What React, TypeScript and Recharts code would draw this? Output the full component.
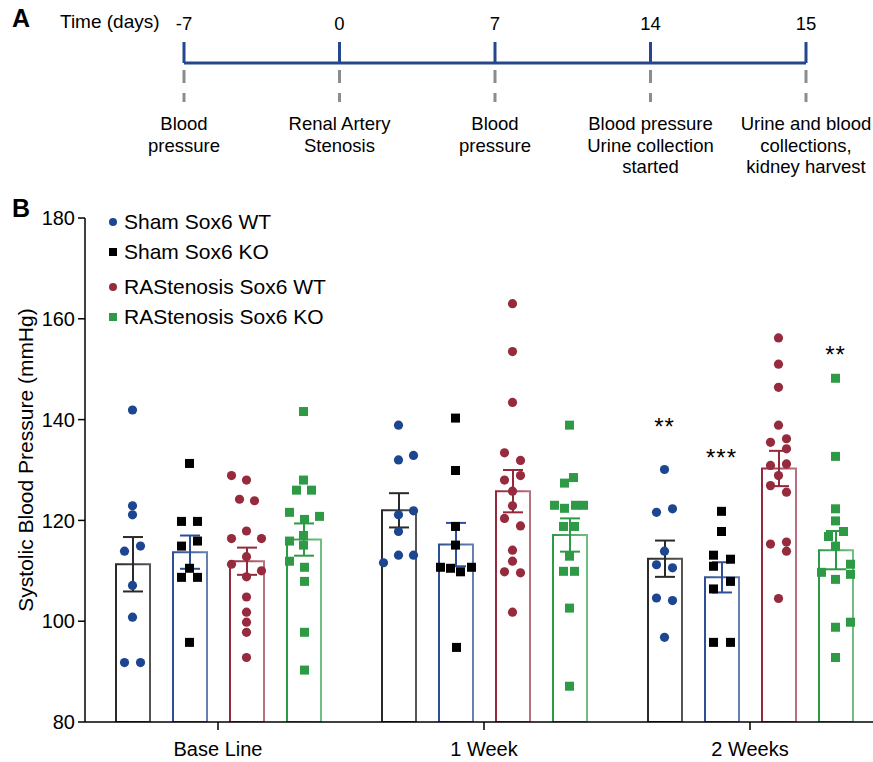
import React from "react";
import {
  ComposedChart,
  LineChart,
  Line,
  Bar,
  ErrorBar,
  Scatter,
  XAxis,
  YAxis,
  ReferenceLine,
  Legend,
  Label,
} from "recharts";

const FONT = "'Liberation Sans', Arial, Helvetica, sans-serif";

// ---------- Panel A: timeline ----------
const timeTicks = ["-7", "0", "7", "14", "15"];
const timeEvents = [
  ["Blood", "pressure"],
  ["Renal Artery", "Stenosis"],
  ["Blood", "pressure"],
  ["Blood pressure", "Urine collection", "started"],
  ["Urine and blood", "collections,", "kidney harvest"],
];

// ---------- Panel B: bars + points ----------
const categories = ["Base Line", "1 Week", "2 Weeks"];
const seriesNames = [
  "Sham Sox6 WT",
  "Sham Sox6 KO",
  "RAStenosis Sox6 WT",
  "RAStenosis Sox6 KO",
];
const yTicks = [80, 100, 120, 140, 160, 180];

const shamWTMean = [111.3, 122.0, 112.4];
const shamWTSem = [5.4, 3.4, 3.6];
const shamKOMean = [113.7, 115.2, 108.7];
const shamKOSem = [3.3, 4.3, 3.0];
const rasWTMean = [111.9, 125.8, 130.3];
const rasWTSem = [2.7, 4.2, 3.5];
const rasKOMean = [116.2, 117.1, 114.1];
const rasKOSem = [3.2, 3.3, 3.8];

const shamWTValues = [
  [141.9, 122.9, 121.1, 113.9, 114.9, 107.1, 100.8, 91.8, 91.8],
  [138.9, 132.0, 132.9, 121.9, 121.1, 117.8, 113.1, 113.1, 111.6],
  [130.1, 121.6, 122.3, 113.9, 111.2, 110.6, 104.6, 104.1, 96.8],
];
const shamWTJitter = [
  [0, 0, 0, -8, 8, 0, 0, -8, 8],
  [0, 0, 15, 15, 0, 0, 0, 15, -15],
  [0, -8, 8, 0, -8, 8, -8, 8, 0],
];

const shamKOValues = [
  [131.3, 119.8, 119.8, 114.9, 115.9, 110.5, 108.7, 108.7, 95.8],
  [140.3, 129.9, 118.8, 115.1, 110.7, 110.5, 109.8, 110.7, 94.8],
  [121.8, 117.8, 113.1, 112.3, 110.9, 107.9, 106.4, 95.8, 95.8],
];
const shamKOJitter = [
  [0, -8, 8, -8, 8, 0, -8, 8, 0],
  [0, 0, 0, 0, -15, -5, 5, 16, 1],
  [0, 0, -8, 9, -8, 9, -8, -8, 9],
];

const rasWTValues = [
  [128.9, 128.0, 124.2, 123.9, 117.9, 116.4, 116.4, 112.8, 111.3, 110.0, 108.8, 104.8, 101.8, 99.8, 97.8, 92.8],
  [163.0, 153.5, 143.4, 133.4, 131.9, 128.9, 128.0, 125.8, 122.9, 120.4, 118.9, 114.1, 111.9, 109.8, 109.6, 101.8],
  [156.2, 151.0, 146.4, 138.9, 135.5, 136.2, 134.2, 130.9, 131.2, 128.9, 126.9, 125.6, 115.3, 115.7, 113.9, 104.5],
];
const rasWTJitter = [
  [-15, 0, -7, 8, 0, -15, 15, 0, -15, 15, 0, 0, 0, 0, 0, 0],
  [0, 0, 0, -8, 8, 8, -8, 0, 0, -8, 8, 0, 0, -8, 8, 0],
  [0, 0, 0, 0, -8, 8, 8, -8, 8, 0, -8, 8, -8, 8, 8, 0],
];

const rasKOValues = [
  [141.6, 128.0, 126.0, 126.0, 121.6, 120.8, 120.2, 117.0, 115.1, 115.9, 111.9, 110.7, 107.9, 97.8, 90.3],
  [138.9, 128.5, 127.4, 123.0, 122.4, 123.0, 123.0, 118.8, 118.8, 112.9, 109.9, 109.9, 102.6, 87.1],
  [148.2, 132.7, 122.3, 119.9, 117.8, 116.8, 114.9, 111.3, 109.7, 109.3, 108.3, 99.8, 98.8, 92.8],
];
const rasKOJitter = [
  [0, 0, -7, 8, -14, 16, 1, 0, 0, -14, -14, 1, 1, 1, 1],
  [0, 4, -5, -15, -5, 6, 14, -6, 5, 0, -6, 5, 0, 0],
  [0, 0, 0, 0, 8, -7, 0, 15, -14, 15, 0, 15, 0, 0],
];

const starLabels = ["**", "***", "**"];
const starGroup = [2, 2, 2];
const starSeries = [0, 1, 3];
const starValue = [139.5, 133.4, 153.9];

// ---------- styles ----------
const BLUE_LINE = "#24478f";
const series = [
  { name: seriesNames[0], mean: shamWTMean, sem: shamWTSem, values: shamWTValues, jitter: shamWTJitter, bar: "#2a2a2a", barLight: "#555555", dot: "#1d4690", shape: "circle" },
  { name: seriesNames[1], mean: shamKOMean, sem: shamKOSem, values: shamKOValues, jitter: shamKOJitter, bar: "#2f4f95", barLight: "#6680b0", dot: "#000000", shape: "square" },
  { name: seriesNames[2], mean: rasWTMean, sem: rasWTSem, values: rasWTValues, jitter: rasWTJitter, bar: "#932a3c", barLight: "#b87280", dot: "#952b3c", shape: "circle" },
  { name: seriesNames[3], mean: rasKOMean, sem: rasKOSem, values: rasKOValues, jitter: rasKOJitter, bar: "#2e9a45", barLight: "#70bf82", dot: "#2e9a45", shape: "square" },
];

const BAND_PX = 266;
const PITCH_PX = 57;

const barData = categories.map((cat, g) => {
  const row: any = { cat };
  series.forEach((s, k) => {
    row["m" + k] = s.mean[g];
    row["e" + k] = s.sem[g];
  });
  return row;
});

const pointData = series.map((s, k) =>
  s.values.flatMap((vals, g) =>
    vals.map((v, j) => ({
      x: g + 0.5 + ((k - 1.5) * PITCH_PX + s.jitter[g][j]) / BAND_PX,
      y: v,
    }))
  )
);

const starData = starLabels.map((label, i) => ({
  x: starGroup[i] + 0.5 + ((starSeries[i] - 1.5) * PITCH_PX) / BAND_PX,
  y: starValue[i],
  label,
}));

const timelineData = timeTicks.map((t, i) => ({ i, y: 1 }));

const TopTick = (props: any) => {
  const { x, y, payload } = props;
  return (
    <text x={x} y={y - 12} textAnchor="middle" fontSize={18.5} fill="#000" fontFamily={FONT}>
      {timeTicks[payload.value]}
    </text>
  );
};

const EventTick = (props: any) => {
  const { x, y, payload } = props;
  const lines = timeEvents[payload.value] || [];
  return (
    <text x={x} y={y} textAnchor="middle" fontSize={18.5} fill="#000" fontFamily={FONT}>
      {lines.map((l, k) => (
        <tspan key={k} x={x} dy={k === 0 ? 28 : 21.7}>
          {l}
        </tspan>
      ))}
    </text>
  );
};

const makeDot = (color: string, shape: string) => (p: any) => {
  if (p.cx == null || p.cy == null) return <g />;
  if (shape === "circle") return <circle cx={p.cx} cy={p.cy} r={4.6} fill={color} />;
  return <rect x={p.cx - 4.5} y={p.cy - 4.5} width={9} height={9} fill={color} />;
};

const StarShape = (p: any) => (
  <text
    x={p.cx}
    y={p.cy + 13}
    textAnchor="middle"
    fontSize={24}
    fill="#000"
    fontFamily={FONT}
    letterSpacing={1}
  >
    {p.payload.label}
  </text>
);

const LegendContent = () => (
  <div style={{ fontFamily: FONT, fontSize: 21, color: "#000" }}>
    {series.map((s, k) => (
      <div
        key={k}
        style={{
          height: 30,
          lineHeight: "30px",
          display: "flex",
          alignItems: "center",
          marginTop: k === 2 ? 5 : 0,
          whiteSpace: "nowrap",
        }}
      >
        <svg width={10} height={10} style={{ marginRight: 6 }}>
          {s.shape === "circle" ? (
            <circle cx={5} cy={5} r={4} fill={s.dot} />
          ) : (
            <rect x={1} y={1} width={8} height={8} fill={s.dot} />
          )}
        </svg>
        <span>{s.name}</span>
      </div>
    ))}
  </div>
);

const YTitle = (props: any) => {
  const vb = props.viewBox || {};
  const cy = (vb.y || 0) + (vb.height || 0) / 2 - 10;
  return (
    <text
      x={25}
      y={cy}
      transform={`rotate(-90, 25, ${cy})`}
      textAnchor="middle"
      dominantBaseline="central"
      fontSize={21}
      fill="#000"
      fontFamily={FONT}
    >
      Systolic Blood Pressure (mmHg)
    </text>
  );
};

export default function App() {
  return (
    <div
      style={{
        position: "absolute",
        left: 0,
        top: 0,
        width: 873,
        height: 762,
        overflow: "hidden",
        background: "#fff",
        fontFamily: FONT,
      }}
    >
      <div style={{ position: "absolute", left: 12, top: 4, fontSize: 25, fontWeight: "bold" }}>A</div>
      <div style={{ position: "absolute", left: 60, top: 11, fontSize: 19 }}>Time (days)</div>
      <div style={{ position: "absolute", left: 12, top: 194, fontSize: 25, fontWeight: "bold" }}>B</div>

      <div style={{ position: "absolute", left: 0, top: 0 }}>
        <LineChart
          width={873}
          height={190}
          data={timelineData}
          margin={{ top: 23, right: 67, bottom: 3, left: 184 }}
        >
          <XAxis
            xAxisId="top"
            dataKey="i"
            type="number"
            domain={[0, 4]}
            ticks={[0, 1, 2, 3, 4]}
            orientation="top"
            height={40}
            axisLine={false}
            tickLine={{ stroke: BLUE_LINE, strokeWidth: 3 }}
            tickSize={21}
            tickMargin={0}
            tick={<TopTick />}
            interval={0}
          />
          <XAxis
            xAxisId="bot"
            dataKey="i"
            type="number"
            domain={[0, 4]}
            ticks={[0, 1, 2, 3, 4]}
            orientation="bottom"
            height={85}
            axisLine={false}
            tickLine={false}
            tickSize={0}
            tickMargin={0}
            tick={<EventTick />}
            interval={0}
          />
          <YAxis hide domain={[0, 1]} />
          {timeTicks.map((t, i) => (
            <ReferenceLine
              key={t}
              xAxisId="top"
              segment={[
                { x: i, y: 1 },
                { x: i, y: 0 },
              ]}
              stroke="#8c8c8c"
              strokeWidth={3}
              strokeDasharray="0 7 13 10 9 20"
            />
          ))}
          <Line
            xAxisId="top"
            dataKey="y"
            stroke={BLUE_LINE}
            strokeWidth={3}
            dot={false}
            isAnimationActive={false}
          />
        </LineChart>
      </div>

      <div style={{ position: "absolute", left: 0, top: 190 }}>
        <ComposedChart
          width={884}
          height={572}
          data={barData}
          margin={{ top: 28, right: 1, bottom: 0, left: 0 }}
          barGap={23}
        >
          <defs>
            {series.map((s, k) => (
              <linearGradient key={k} id={"edge" + k} x1="0" y1="0" x2="1" y2="0">
                <stop offset="0%" stopColor={s.bar} />
                <stop offset="100%" stopColor={s.barLight} />
              </linearGradient>
            ))}
          </defs>
          <XAxis
            xAxisId="c"
            dataKey="cat"
            type="category"
            height={40}
            axisLine={{ stroke: "#000", strokeWidth: 1.5 }}
            tickLine={{ stroke: "#000", strokeWidth: 1.5 }}
            tickSize={8}
            tickMargin={12}
            tick={{ fontSize: 20, fill: "#000", fontFamily: FONT }}
            interval={0}
          />
          <XAxis xAxisId="n" dataKey="x" type="number" domain={[0, 3]} hide allowDataOverflow />
          <YAxis
            dataKey="y"
            type="number"
            domain={[80, 180]}
            ticks={yTicks}
            width={85}
            axisLine={{ stroke: "#000", strokeWidth: 1.5 }}
            tickLine={{ stroke: "#000", strokeWidth: 1.5 }}
            tickSize={7}
            tickMargin={3}
            tick={{ fontSize: 20, fill: "#000", fontFamily: FONT }}
            allowDataOverflow
          >
            <Label content={<YTitle />} />
          </YAxis>
          <Legend
            layout="vertical"
            align="center"
            verticalAlign="middle"
            content={<LegendContent />}
            wrapperStyle={{ left: 108, top: 17, width: 300, height: 150 }}
          />
          {series.map((s, k) => (
            <Bar
              key={"b" + k}
              xAxisId="c"
              dataKey={"m" + k}
              name={s.name}
              barSize={34}
              fill="#ffffff"
              stroke={`url(#edge${k})`}
              strokeWidth={2}
              isAnimationActive={false}
              legendType="none"
            >
              <ErrorBar dataKey={"e" + k} width={10} stroke={s.bar} strokeWidth={2} direction="y" />
            </Bar>
          ))}
          {series.map((s, k) => (
            <Scatter
              key={"s" + k}
              xAxisId="n"
              data={pointData[k]}
              name={s.name}
              shape={makeDot(s.dot, s.shape)}
              isAnimationActive={false}
              legendType="none"
            />
          ))}
          <Scatter
            xAxisId="n"
            data={starData}
            shape={<StarShape />}
            isAnimationActive={false}
            legendType="none"
          />
        </ComposedChart>
      </div>
    </div>
  );
}
